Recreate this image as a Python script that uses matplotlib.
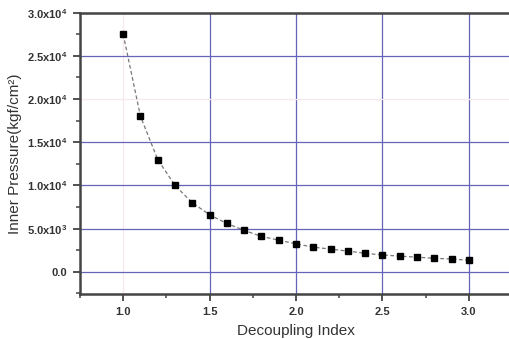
import matplotlib
matplotlib.use("Agg")
import matplotlib.pyplot as plt
from matplotlib.ticker import MultipleLocator, FixedLocator

plt.rcParams['font.family'] = ['Liberation Sans', 'DejaVu Sans']
plt.rcParams['mathtext.fontset'] = 'custom'
plt.rcParams['mathtext.rm'] = 'Liberation Sans:bold'
plt.rcParams['mathtext.it'] = 'Liberation Sans:bold'
plt.rcParams['mathtext.bf'] = 'Liberation Sans:bold'

decoupling_index = [1.0, 1.1, 1.2, 1.3, 1.4, 1.5, 1.6, 1.7, 1.8, 1.9, 2.0,
                    2.1, 2.2, 2.3, 2.4, 2.5, 2.6, 2.7, 2.8, 2.9, 3.0]
inner_pressure = [27500, 18000, 13000, 10000, 8000, 6600, 5600, 4800, 4100, 3670, 3240,
                  2860, 2630, 2400, 2150, 1950, 1820, 1700, 1570, 1480, 1350]

x_ticks = [1.0, 1.5, 2.0, 2.5, 3.0]
x_tick_labels = ["1.0", "1.5", "2.0", "2.5", "3.0"]
y_ticks = [0, 5000, 10000, 15000, 20000, 25000, 30000]
y_tick_labels = ["0.0", "5.0x10$^3$", "1.0x10$^4$", "1.5x10$^4$",
                 "2.0x10$^4$", "2.5x10$^4$", "3.0x10$^4$"]

fig = plt.figure(figsize=(5.10, 3.39), dpi=100)
ax = fig.add_axes([80/510, 1 - 294.3/339, 432/510, (294.3 - 12.7)/339])

blue = '#6464b8'
pink = '#f6e8ee'
for xv in x_ticks:
    c = pink if xv == 1.0 else blue
    ax.axvline(xv, color=c, lw=0.9, zorder=0)
for yv in y_ticks:
    if yv == 30000:
        continue
    c = pink if yv == 20000 else blue
    ax.axhline(yv, color=c, lw=0.9, zorder=0)

ax.plot(decoupling_index, inner_pressure, color='#777777', lw=0.9,
        linestyle=(0, (3, 2)), zorder=2)
ax.plot(decoupling_index, inner_pressure, linestyle='none', marker='s',
        markersize=4.6, color='black', zorder=3)

ax.set_xlim(0.75, 3.25)
ax.set_ylim(-2600, 30000)
ax.xaxis.set_major_locator(FixedLocator(x_ticks))
ax.set_xticklabels(x_tick_labels)
ax.xaxis.set_minor_locator(MultipleLocator(0.25))
ax.yaxis.set_major_locator(FixedLocator(y_ticks))
ax.set_yticklabels(y_tick_labels)
ax.yaxis.set_minor_locator(MultipleLocator(2500))

spine_c = '#444444'
for s in ['left', 'bottom', 'top']:
    ax.spines[s].set_color(spine_c)
    ax.spines[s].set_linewidth(1.8)
ax.spines['right'].set_visible(False)

ax.tick_params(which='major', direction='out', length=5, width=1.3, color=spine_c,
               labelsize=8, pad=4, labelcolor='#333333')
ax.tick_params(which='minor', direction='out', length=3, width=1.1, color=spine_c)
for lab in ax.get_xticklabels() + ax.get_yticklabels():
    lab.set_fontweight('bold')

ax.set_xlabel("Decoupling Index", fontsize=11, color='#333333', labelpad=5)
ax.set_ylabel("Inner Pressure(kgf/cm\u00b2)", fontsize=11, color='#333333', labelpad=4)

fig.savefig("out.png", dpi=100)
